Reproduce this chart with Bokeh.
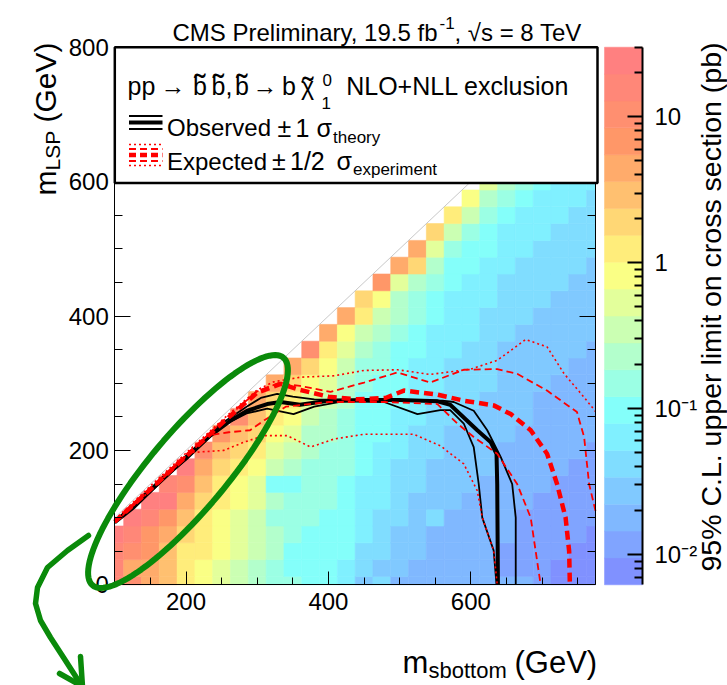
import math
from bokeh.plotting import figure
from bokeh.models import (Range1d, FixedTicker, LinearAxis, LogAxis, LogScale, BoxAnnotation, Label,
                          PolyAnnotation, ColumnDataSource, LogColorMapper)
from bokeh.embed import file_html
from bokeh.resources import INLINE

FONT = "Liberation Sans"

# ---------------- data ----------------
m_sbottom_centers = list(range(100, 776, 25))
# 95% CL upper limit (pb), per m_sbottom column, m_LSP = 0, 25, 50, ... (m_sbottom - 25)
limit_pb = [
    [16, 16, 16, 24],
    [10.4, 4.5, 10.4, 16, 24],
    [4.5, 4.5, 6.8, 6.8, 16, 24],
    [2.9, 2.9, 2.9, 4.5, 6.8, 24, 16],
    [1.25, 1.25, 1.25, 1.9, 2.9, 4.5, 10.4, 24],
    [0.82, 0.82, 1.25, 1.25, 1.25, 1.9, 2.9, 4.5, 10.4],
    [0.53, 0.53, 0.82, 0.82, 0.82, 1.25, 1.25, 1.9, 2.9, 6.8],
    [0.35, 0.35, 0.53, 0.53, 0.53, 0.82, 0.82, 1.25, 1.9, 2.9, 10.4],
    [0.23, 0.23, 0.35, 0.35, 0.35, 0.53, 0.53, 0.82, 1.25, 1.9, 2.9, 4.5],
    [0.15, 0.15, 0.23, 0.23, 0.15, 0.23, 0.098, 0.35, 0.53, 0.82, 1.25, 1.9, 4.5],
    [0.15, 0.098, 0.098, 0.15, 0.15, 0.15, 0.098, 0.23, 0.35, 0.53, 0.82, 1.25, 1.9, 4.5],
    [0.098, 0.098, 0.098, 0.098, 0.15, 0.15, 0.15, 0.15, 0.23, 0.23, 0.35, 0.53, 0.82, 1.9, 10.4],
    [0.098, 0.098, 0.098, 0.098, 0.098, 0.15, 0.15, 0.15, 0.15, 0.23, 0.23, 0.35, 0.53, 0.82, 1.25, 4.5],
    [0.064, 0.064, 0.098, 0.098, 0.098, 0.098, 0.098, 0.15, 0.15, 0.15, 0.15, 0.23, 0.23, 0.35, 0.53, 0.82, 4.5],
    [0.027, 0.042, 0.042, 0.064, 0.064, 0.064, 0.064, 0.098, 0.098, 0.098, 0.098, 0.098, 0.15, 0.15, 0.23, 0.35, 1.25, 1.9],
    [0.042, 0.027, 0.042, 0.042, 0.042, 0.064, 0.064, 0.064, 0.064, 0.098, 0.098, 0.098, 0.098, 0.15, 0.15, 0.23, 0.35, 0.82, 6.8],
    [0.018, 0.027, 0.027, 0.027, 0.042, 0.042, 0.042, 0.042, 0.064, 0.064, 0.064, 0.098, 0.098, 0.098, 0.098, 0.15, 0.23, 0.23, 0.53, 4.5],
    [0.018, 0.018, 0.027, 0.027, 0.027, 0.027, 0.042, 0.042, 0.042, 0.042, 0.064, 0.064, 0.064, 0.064, 0.098, 0.098, 0.15, 0.15, 0.23, 1.9, 4.5],
    [0.018, 0.018, 0.018, 0.018, 0.042, 0.027, 0.027, 0.027, 0.042, 0.042, 0.042, 0.042, 0.064, 0.064, 0.064, 0.064, 0.098, 0.098, 0.15, 0.23, 0.53, 1.9],
    [0.018, 0.018, 0.018, 0.018, 0.018, 0.027, 0.027, 0.027, 0.027, 0.027, 0.042, 0.042, 0.042, 0.042, 0.064, 0.064, 0.064, 0.064, 0.098, 0.098, 0.15, 0.35, 1.25],
    [0.018, 0.018, 0.018, 0.018, 0.018, 0.018, 0.027, 0.027, 0.027, 0.027, 0.027, 0.042, 0.042, 0.042, 0.042, 0.064, 0.064, 0.064, 0.064, 0.098, 0.098, 0.15, 0.35, 0.82],
    [0.018, 0.018, 0.018, 0.018, 0.018, 0.018, 0.018, 0.027, 0.027, 0.027, 0.027, 0.027, 0.042, 0.042, 0.042, 0.042, 0.042, 0.064, 0.064, 0.064, 0.098, 0.098, 0.15, 0.23, 0.53],
    [0.018, 0.012, 0.012, 0.018, 0.018, 0.018, 0.018, 0.018, 0.018, 0.027, 0.027, 0.027, 0.027, 0.027, 0.027, 0.042, 0.042, 0.042, 0.042, 0.064, 0.064, 0.064, 0.098, 0.15, 0.23, 0.35],
    [0.018, 0.012, 0.012, 0.012, 0.012, 0.018, 0.018, 0.018, 0.018, 0.018, 0.027, 0.027, 0.027, 0.027, 0.027, 0.027, 0.042, 0.042, 0.042, 0.042, 0.064, 0.064, 0.064, 0.098, 0.15, 0.15, 0.23],
    [0.012, 0.012, 0.012, 0.012, 0.012, 0.012, 0.018, 0.018, 0.018, 0.018, 0.018, 0.018, 0.027, 0.027, 0.027, 0.027, 0.027, 0.042, 0.042, 0.042, 0.042, 0.064, 0.064, 0.064, 0.098, 0.098, 0.15, 0.23],
    [0.0077, 0.0077, 0.012, 0.012, 0.012, 0.012, 0.012, 0.018, 0.018, 0.018, 0.018, 0.018, 0.018, 0.027, 0.027, 0.027, 0.027, 0.027, 0.042, 0.042, 0.042, 0.042, 0.064, 0.064, 0.064, 0.098, 0.098, 0.15, 0.23],
    [0.0077, 0.0077, 0.0077, 0.012, 0.012, 0.012, 0.012, 0.012, 0.018, 0.018, 0.018, 0.018, 0.018, 0.018, 0.027, 0.027, 0.027, 0.027, 0.027, 0.042, 0.042, 0.042, 0.042, 0.064, 0.064, 0.064, 0.098, 0.098, 0.15, 0.23],
    [0.0077, 0.0077, 0.0077, 0.0077, 0.012, 0.012, 0.012, 0.012, 0.012, 0.018, 0.018, 0.018, 0.018, 0.018, 0.018, 0.027, 0.027, 0.027, 0.027, 0.027, 0.042, 0.042, 0.042, 0.042, 0.064, 0.064, 0.064, 0.098, 0.098, 0.15, 0.23],
]

# exclusion contours (m_sbottom, m_LSP) in GeV
obs_x = [100, 127, 150, 174, 202, 234, 262, 286, 314, 333, 360, 400, 450, 500, 553, 571, 590, 609, 628, 636, 637, 638]
obs_y = [93, 116, 140, 165, 190, 222, 244, 259, 269, 272, 268, 274, 275, 275, 273, 268, 249, 230, 212, 195, 150, 0]
obs_up_x = [100, 150, 200, 250, 285, 305, 328, 350, 380, 430, 500, 560, 576, 604, 623, 642, 658, 663, 663]
obs_up_y = [95, 143, 192, 240, 265, 278, 284, 280, 276, 275, 275, 274, 272, 259, 230, 190, 150, 100, 0]
obs_dn_x = [100, 150, 200, 250, 285, 314, 351, 380, 420, 478, 525, 557, 571, 590, 604, 611, 616, 632, 636]
obs_dn_y = [92, 138, 187, 236, 255, 262, 254, 265, 273, 272, 254, 260, 260, 240, 205, 150, 100, 51, 0]
exp_x = [100, 150, 200, 250, 300, 333, 360, 400, 440, 480, 506, 553, 590, 632, 656, 684, 707, 721, 733, 738, 739]
exp_y = [94, 142, 191, 240, 286, 299, 290, 280, 276, 278, 289, 283, 274, 267, 254, 230, 195, 150, 100, 50, 0]
exp_up1_x = [100, 150, 200, 250, 300, 330, 360, 403, 450, 497, 543, 590, 637, 665, 707, 749, 759, 766, 775]
exp_up1_y = [95, 144, 193, 242, 288, 300, 296, 287, 301, 316, 301, 320, 321, 314, 289, 257, 220, 150, 110]
exp_dn1_x = [100, 150, 200, 230, 260, 290, 310, 340, 400, 480, 553, 581, 604, 637, 665, 684, 698]
exp_dn1_y = [93, 141, 190, 222, 227, 230, 245, 265, 272, 272, 269, 240, 220, 195, 150, 100, 0]
exp_up2_x = [100, 150, 200, 260, 300, 323, 361, 408, 450, 497, 543, 600, 637, 677, 707, 731, 759, 775]
exp_up2_y = [97, 147, 196, 254, 290, 302, 309, 311, 319, 320, 313, 321, 334, 365, 354, 314, 279, 258]
exp_dn2_x = [100, 150, 190, 210, 253, 281, 309, 342, 375, 408, 450, 520, 557, 590, 609, 616, 632, 637]
exp_dn2_y = [93, 140, 185, 197, 200, 212, 222, 222, 205, 217, 224, 224, 207, 180, 140, 100, 51, 0]

z_min, z_max = 0.0062, 30.0
n_contours = 20
x_lo, x_hi = 100, 775
y_lo, y_hi = 0, 800
x_major = [200, 400, 600]
y_major = [0, 200, 400, 600, 800]
z_major = [0.01, 0.1, 1, 10]
z_labels = {0.01: "10\u207b\u00b2", 0.1: "10\u207b\u00b9", 1: "1", 10: "10"}

# ---------------- palette (ROOT gradient) ----------------
stops = [0.00, 0.34, 0.61, 0.84, 1.00]
reds = [0.50, 0.50, 1.00, 1.00, 1.00]
greens = [0.50, 1.00, 1.00, 0.60, 0.50]
blues = [1.00, 1.00, 0.50, 0.40, 0.50]


def grad(f):
    for k in range(len(stops) - 1):
        if f <= stops[k + 1]:
            t = (f - stops[k]) / (stops[k + 1] - stops[k])
            return tuple(int(round(255 * (c[k] + t * (c[k + 1] - c[k])))) for c in (reds, greens, blues))
    return tuple(int(round(255 * c[-1])) for c in (reds, greens, blues))


ncol = 255
band_colors = []
for i in range(n_contours):
    idx = min(int((i + 0.99) * ncol / n_contours), ncol - 1)
    r, g, b = grad(idx / (ncol - 1))
    band_colors.append("#%02x%02x%02x" % (r, g, b))
mapper = LogColorMapper(palette=band_colors, low=z_min, high=z_max)

# ---------------- geometry (canvas pixels) ----------------
W, H = 727, 685
PL, PR, PT, PB = 114.3, 595.0, 46.7, 584.3      # plot area
SX = (PR - PL) / (x_hi - x_lo)
SY = (PB - PT) / (y_hi - y_lo)


def mx(px):
    return x_lo + (px - PL) / SX


def my(py):
    return y_lo + (PB - py) / SY


llo, lhi = math.log10(z_min), math.log10(z_max)
LPP = (lhi - llo) / (PB - PT)   # decades per pixel

p = figure(width=W, height=H,
           x_range=Range1d(mx(0), mx(W)), y_range=Range1d(my(H), my(0)),
           x_axis_location=None, y_axis_location=None,
           output_backend="svg", toolbar_location=None,
           min_border=0, min_border_left=0, min_border_right=0, min_border_top=0, min_border_bottom=0)
p.extra_y_ranges = {"cb": Range1d(10 ** (llo - (H - PB) * LPP), 10 ** (lhi + PT * LPP))}
p.extra_y_scales = {"cb": LogScale()}
p.xgrid.visible = False
p.ygrid.visible = False
p.outline_line_color = None
p.background_fill_color = "white"
p.border_fill_color = "white"


def style_axis(ax, mj, mn, so, lw=1):
    ax.major_tick_in = mj
    ax.major_tick_out = 0
    ax.minor_tick_in = mn
    ax.minor_tick_out = 0
    ax.axis_line_color = "black"
    ax.axis_line_width = lw
    ax.major_tick_line_color = "black"
    ax.minor_tick_line_color = "black"
    ax.major_tick_line_width = lw
    ax.minor_tick_line_width = lw
    ax.major_label_text_font = FONT
    ax.major_label_text_font_size = "24px"
    ax.major_label_text_color = "black"
    ax.major_label_standoff = so


x_minor = [v for v in range(x_lo, x_hi + 1, 50) if v not in x_major]
y_minor = [v for v in range(y_lo, y_hi + 1, 50) if v not in y_major]

xax = LinearAxis(fixed_location=y_lo, bounds=(x_lo, x_hi),
                 ticker=FixedTicker(ticks=x_major, minor_ticks=x_minor))
style_axis(xax, 13, 7, 8)
p.add_layout(xax, "below")

yax = LinearAxis(fixed_location=x_lo, bounds=(y_lo, y_hi),
                 ticker=FixedTicker(ticks=y_major, minor_ticks=y_minor))
style_axis(yax, 16, 8, 6)
p.add_layout(yax, "left")

rax = LinearAxis(fixed_location=x_hi, bounds=(y_lo, y_hi),
                 ticker=FixedTicker(ticks=[], minor_ticks=[v for v in y_minor if v < 600]))
style_axis(rax, 16, 8, 0)
p.add_layout(rax, "right")
rax2 = LinearAxis(fixed_location=x_hi, bounds=(y_lo, y_hi),
                  ticker=FixedTicker(ticks=[], minor_ticks=[v for v in y_major if 0 < v < 600]))
style_axis(rax2, 16, 16, 0)
p.add_layout(rax2, "right")

# heat map cells (clipped to the plot area)
ql, qr, qb, qt, qv = [], [], [], [], []
for xc, col in zip(m_sbottom_centers, limit_pb):
    for j, v in enumerate(col):
        yc = 25 * j
        ql.append(max(xc - 12.5, x_lo))
        qr.append(min(xc + 12.5, x_hi))
        qb.append(max(yc - 12.5, y_lo))
        qt.append(yc + 12.5)
        qv.append(v)
src = ColumnDataSource(dict(left=ql, right=qr, bottom=qb, top=qt, v=qv))
p.quad(left="left", right="right", bottom="bottom", top="top", source=src,
       fill_color={"field": "v", "transform": mapper},
       line_color={"field": "v", "transform": mapper}, line_width=0.6)

# kinematic boundary
p.line([x_lo, x_hi], [x_lo, x_hi], line_color="#c8c8c8", line_width=1)

# contours
p.line(obs_up_x, obs_up_y, line_color="black", line_width=1.8)
p.line(obs_dn_x, obs_dn_y, line_color="black", line_width=1.8)
p.line(obs_x, obs_y, line_color="black", line_width=4)
p.line(exp_up2_x, exp_up2_y, line_color="red", line_width=1.6, line_dash="2 3")
p.line(exp_dn2_x, exp_dn2_y, line_color="red", line_width=1.6, line_dash="2 3")
p.line(exp_up1_x, exp_up1_y, line_color="red", line_width=1.8, line_dash="7 4")
p.line(exp_dn1_x, exp_dn1_y, line_color="red", line_width=1.8, line_dash="7 4")
p.line(exp_x, exp_y, line_color="red", line_width=4.5, line_dash="9 5")

# legend box
p.add_layout(BoxAnnotation(left=x_lo, right=mx(597), top=y_hi, bottom=my(182.5),
                           fill_color="white", fill_alpha=1, line_color="black",
                           line_alpha=1, line_width=2.5))


def seg(py, **kw):
    p.line([mx(128.5), mx(162)], [my(py), my(py)], level="overlay", **kw)


seg(115.5, line_color="black", line_width=1.8)
seg(128.5, line_color="black", line_width=1.8)
seg(122, line_color="black", line_width=4)
seg(144, line_color="red", line_width=1.5, line_dash="2 3")
seg(165, line_color="red", line_width=1.5, line_dash="2 3")
seg(148.5, line_color="red", line_width=1.8, line_dash="7 4")
seg(160.5, line_color="red", line_width=1.8, line_dash="7 4")
seg(154.5, line_color="red", line_width=4.5, line_dash="7 4")


def L(px, py, text, size, align="left", baseline="alphabetic", angle=0.0):
    p.add_layout(Label(x=mx(px), y=my(py), text=text,
                       text_font=FONT, text_font_size="%gpx" % size,
                       text_color="black", text_align=align, text_baseline=baseline,
                       angle=angle, level="overlay"))


# title
L(172, 31.7, "CMS Preliminary, 19.5 fb", 24)
L(439, 22, "-1", 17)
L(454, 31.7, ", \u221as = 8 TeV", 24)

# legend texts
L(127, 85.3, "pp", 25)
L(160, 85.3, "\u2192", 25)
L(192.5, 85.3, "b", 25)
L(211, 85.3, "b,", 25)
L(234.5, 85.3, "b", 25)
L(252, 85.3, "\u2192", 25)
L(281.5, 85.3, "b", 25)
L(300.5, 85.3, "\u03c7", 25)
for bc in (199.5, 218, 241.5):
    L(bc, 85.3, "\u02dc", 34, align="center")
L(307.5, 88, "\u02dc", 34, align="center")
L(322, 79, "0", 17)
L(321, 102, "1", 17)
L(345.7, 85.3, "NLO+NLL exclusion", 25)
L(166.5, 127.4, "Observed", 24)
L(277, 127.4, "\u00b1", 25)
L(295, 127.4, "1", 25)
L(316, 127.4, "\u03c3", 25)
L(332.5, 136.5, "theory", 17)
L(166.5, 160.5, "Expected", 24)
L(271.5, 160.5, "\u00b1", 25)
L(289.5, 160.5, "1/2", 25)
L(336, 160.5, "\u03c3", 25)
L(352.5, 168.5, "experiment", 17)

# axis titles
L(402, 661.5, "m", 31)
L(428, 669.5, "sbottom", 22)
L(514, 661.5, "(GeV)", 31)
L(45, 195, "m", 30, angle=math.pi / 2)
L(52, 170, "LSP", 21, angle=math.pi / 2)
L(45, 122, "(GeV)", 30, angle=math.pi / 2)

# ---------------- colour bar ----------------
CB_L, CB_R = 604, 642
step = (lhi - llo) / n_contours
edges = [10 ** (llo + k * step) for k in range(n_contours + 1)]
p.quad(left=mx(CB_L), right=mx(CB_R), bottom=edges[:-1], top=edges[1:], y_range_name="cb",
       fill_color=band_colors, line_color=band_colors, line_width=0.5)
z_minor = ([m * 0.001 for m in (7, 8, 9)] + [m * 0.01 for m in range(2, 10)] +
           [m * 0.1 for m in range(2, 10)] + list(range(2, 10)) + [20, 30])
cax = LogAxis(y_range_name="cb", fixed_location=mx(CB_R), bounds=(z_min, z_max),
              ticker=FixedTicker(ticks=z_major, minor_ticks=z_minor),
              major_label_overrides=z_labels)
style_axis(cax, 15, 8, 12, lw=2)
p.add_layout(cax, "right")
L(710, 42, "95% C.L. upper limit on cross section (pb)", 28.5, align="right", baseline="middle",
  angle=math.pi / 2)

# ---------------- green annotation ----------------
GREEN = "#0a8a0a"
ecx, ecy, ea, eb, eth = 187.5, 471.0, 148.5, 38.5, math.radians(50)
exs, eys = [], []
for k in range(121):
    t = 2 * math.pi * k / 120
    px = ecx + ea * math.cos(t) * math.cos(eth) + eb * math.sin(t) * math.sin(eth)
    py = ecy - ea * math.cos(t) * math.sin(eth) + eb * math.sin(t) * math.cos(eth)
    exs.append(mx(px))
    eys.append(my(py))
p.add_layout(PolyAnnotation(xs=exs, ys=eys, line_color=GREEN, line_alpha=1, line_width=6,
                            fill_alpha=0, level="overlay"))
arrow_px = [(88, 535), (67, 550), (47, 567), (37, 587), (35, 603), (40, 620), (50, 637), (63, 657), (81, 685)]
path = arrow_px + arrow_px[-2::-1]
p.add_layout(PolyAnnotation(xs=[mx(a) for a, b in path], ys=[my(b) for a, b in path],
                            line_color=GREEN, line_alpha=1, line_width=5.5, fill_alpha=0,
                            line_join="round", level="overlay"))
head = [(59, 673), (82, 686), (80, 656), (82, 686)]
p.add_layout(PolyAnnotation(xs=[mx(a) for a, b in head], ys=[my(b) for a, b in head],
                            line_color=GREEN, line_alpha=1, line_width=5.5, fill_alpha=0,
                            line_join="round", level="overlay"))

open("out.html", "w").write(file_html(p, INLINE))
